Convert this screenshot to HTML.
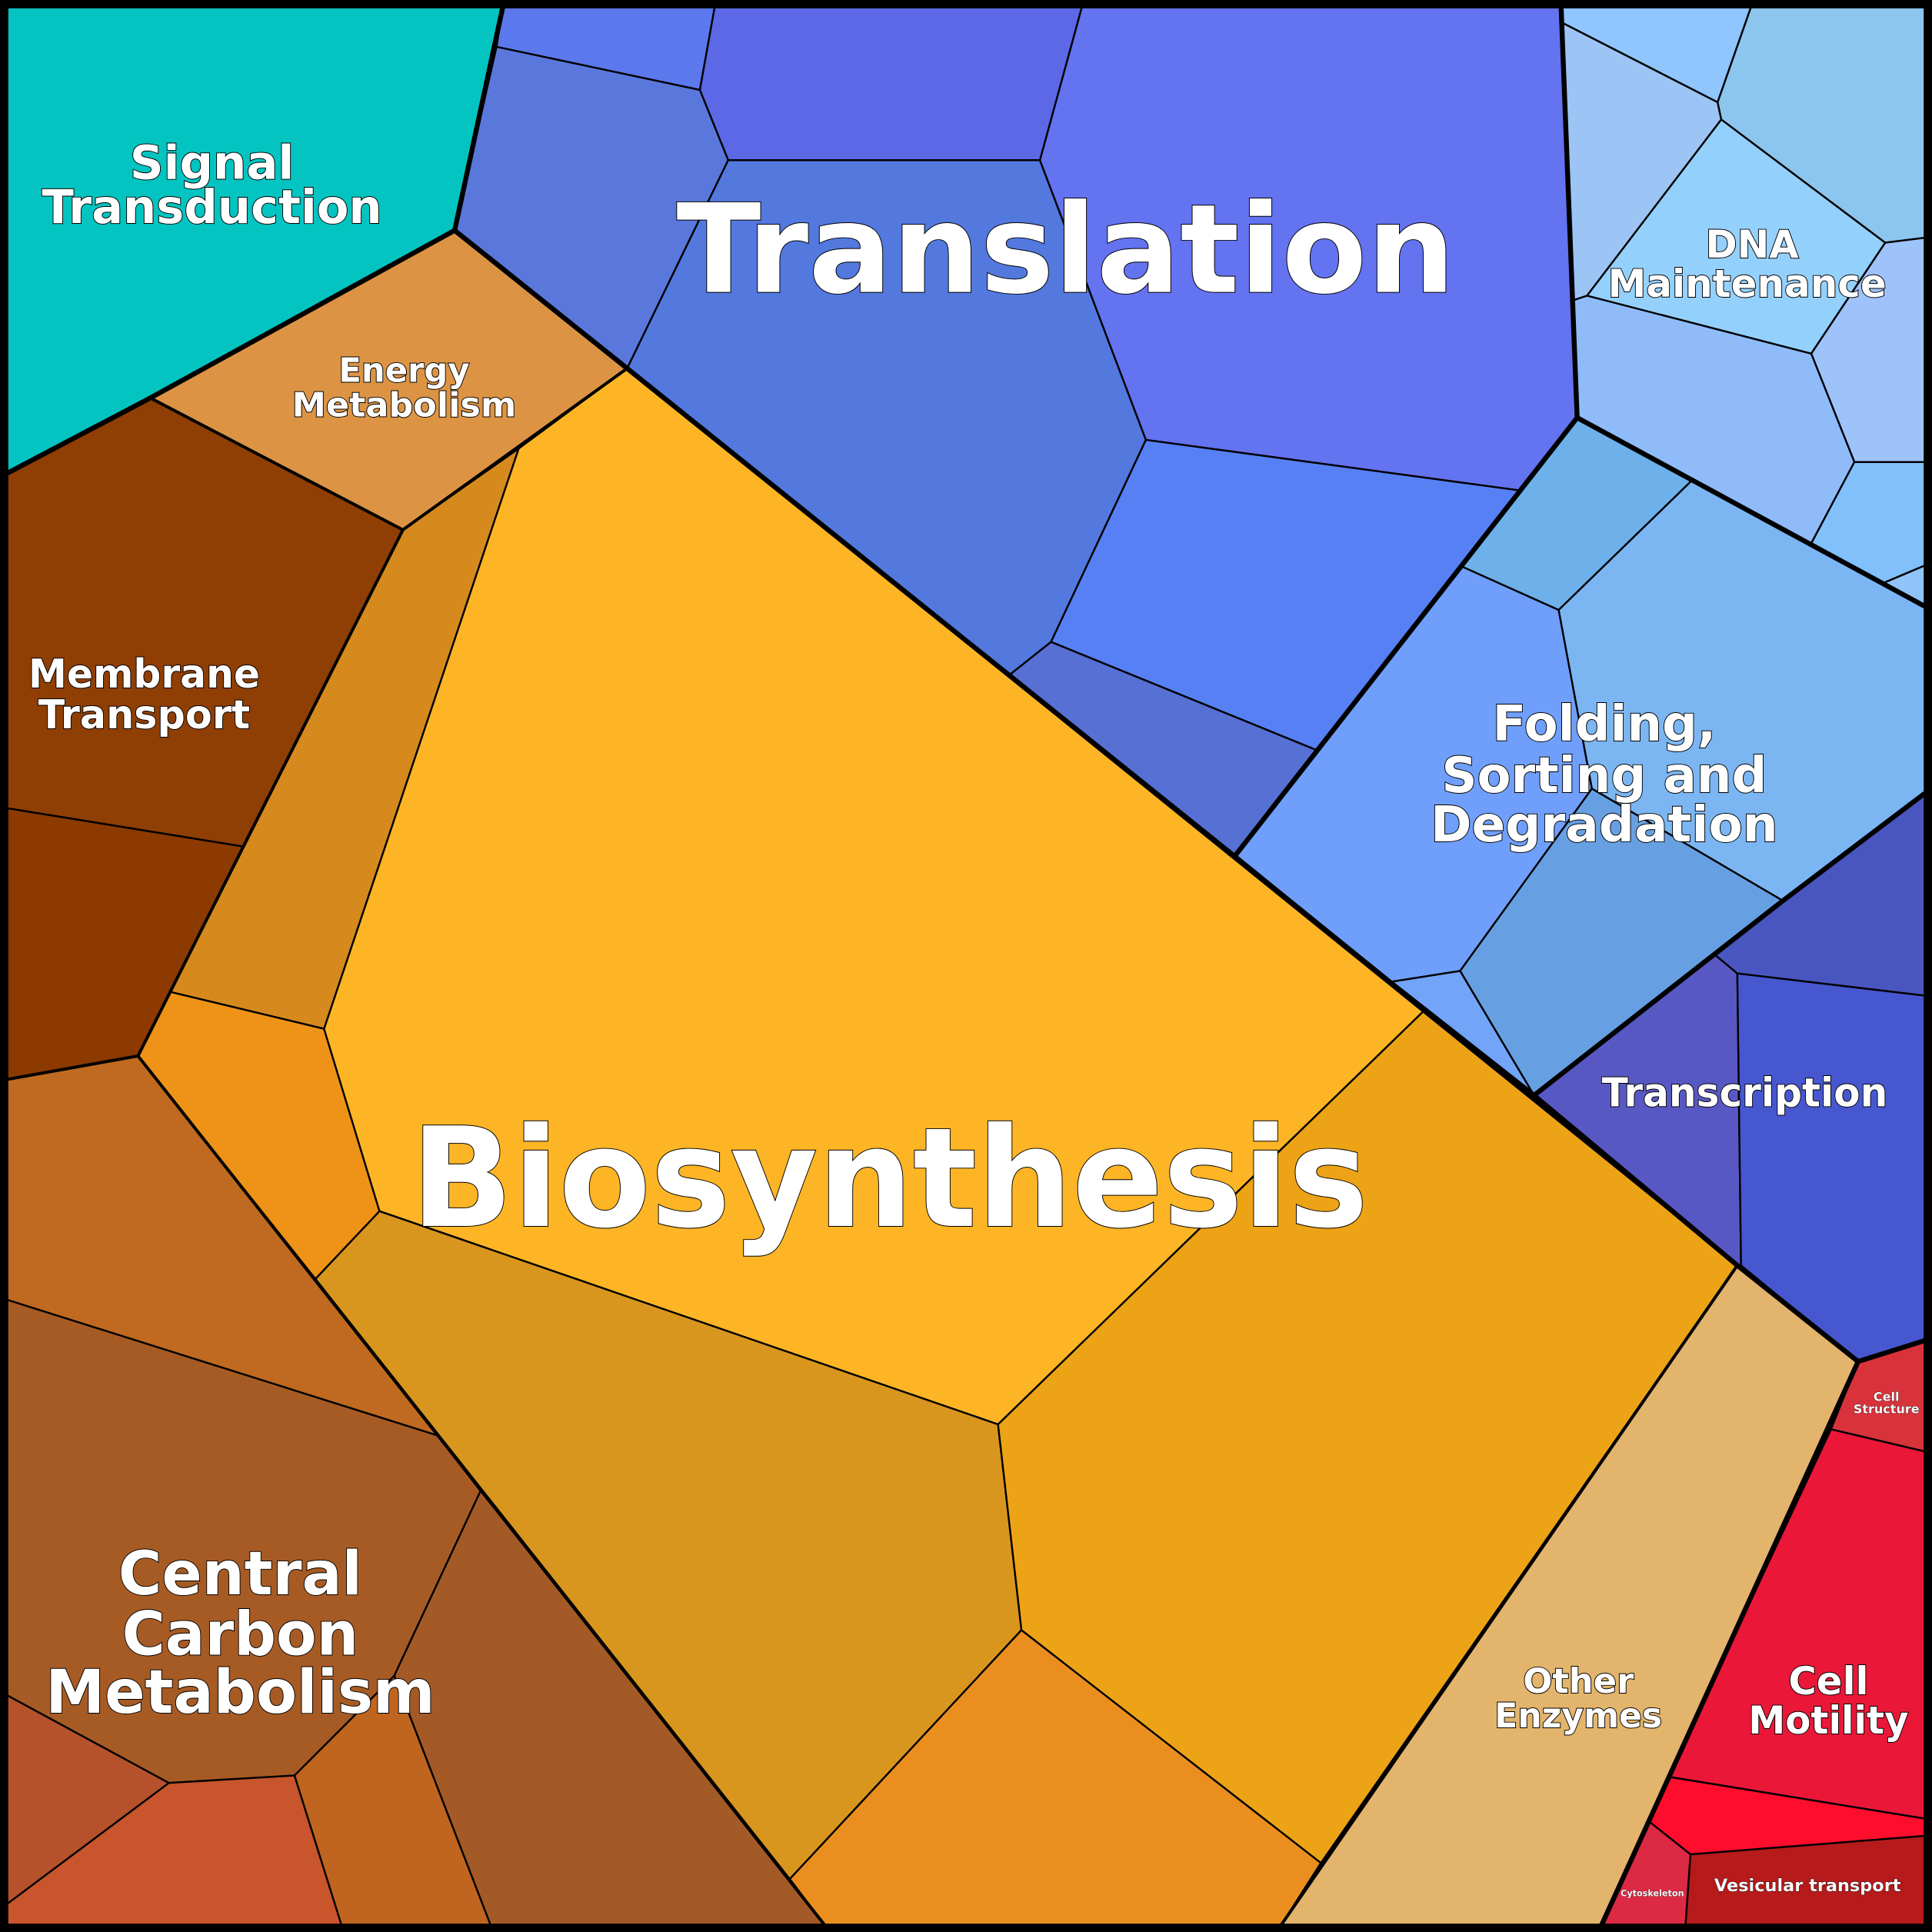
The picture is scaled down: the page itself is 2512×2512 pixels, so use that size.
<!DOCTYPE html>
<html><head><meta charset="utf-8"><style>html,body{margin:0;padding:0;background:#fff}svg{display:block}
text{font-family:"DejaVu Sans","Liberation Sans",sans-serif;font-weight:bold;fill:#fff;stroke:#000;stroke-width:1.2;paint-order:stroke;text-anchor:middle}</style></head>
<body>
<svg width="2512" height="2512" viewBox="0 0 1568 1568" xmlns="http://www.w3.org/2000/svg">
<rect x="0" y="0" width="1568" height="1568" fill="#000"/>
<g stroke="#000" stroke-width="1.5" stroke-linejoin="round">
<polygon fill="#03c4c1" points="6,6 408,6 369,187 122,323 6,384"/>
<polygon fill="#dc9444" points="122,323 369,187 509,299 327,430"/>
<polygon fill="#8f3e04" points="6,384 122,323 327,430 197,687 6,656"/>
<polygon fill="#8c3a00" points="6,656 197,687 112,857 6,876"/>
<polygon fill="#d68a1e" points="327,430 421,364 263,835 138,805"/>
<polygon fill="#ee9318" points="138,805 263,835 308,983 256,1038 112,857"/>
<polygon fill="#fdb526" points="421,364 509,299 1155,821 810,1156 308,983 263,835"/>
<polygon fill="#d9961f" points="308,983 810,1156 829,1323 641,1525 256,1038"/>
<polygon fill="#eda316" points="1155,821 1410,1027 1072,1512 829,1323 810,1156"/>
<polygon fill="#ea8f1f" points="829,1323 1072,1512 1040,1562 669,1562 641,1525"/>
<polygon fill="#bf6a20" points="6,876 112,857 256,1038 355,1165 6,1055"/>
<polygon fill="#a75b24" points="6,1055 355,1165 390,1210 320,1360 239,1441 137,1447 6,1376"/>
<polygon fill="#a35a26" points="390,1210 669,1562 398,1562 320,1360"/>
<polygon fill="#c0651f" points="320,1360 398,1562 277,1562 239,1441"/>
<polygon fill="#c8552b" points="137,1447 239,1441 277,1562 6,1562 6,1545"/>
<polygon fill="#b5522c" points="6,1376 137,1447 6,1545"/>
<polygon fill="#e2b46c" points="1410,1027 1508,1105 1300,1562 1040,1562"/>
<polygon fill="#d8323a" points="1508,1105 1562,1088 1562,1178 1486,1160"/>
<polygon fill="#ea1738" points="1486,1160 1562,1178 1562,1476 1354,1442"/>
<polygon fill="#ff0d2c" points="1354,1442 1562,1476 1562,1490 1372,1505 1338,1478"/>
<polygon fill="#dc2a44" points="1338,1478 1372,1505 1368,1562 1300,1562"/>
<polygon fill="#b61a1a" points="1372,1505 1562,1490 1562,1562 1368,1562"/>
<polygon fill="#5858c4" points="1245,889 1392,775 1410,790 1413,1027 1410,1027"/>
<polygon fill="#4757cf" points="1410,790 1562,808 1562,1088 1508,1105 1413,1027"/>
<polygon fill="#4a56c0" points="1392,775 1447,731 1562,644 1562,808 1410,790"/>
<polygon fill="#6f9ffa" points="1002,695 1187,460 1265,495 1292,640 1185,788 1128,797"/>
<polygon fill="#67a0e2" points="1185,788 1292,640 1447,731 1245,889"/>
<polygon fill="#72a4f8" points="1128,797 1185,788 1245,889"/>
<polygon fill="#7bb6f3" points="1265,495 1373,390 1562,492 1562,644 1447,731 1292,640"/>
<polygon fill="#6eb0ea" points="1187,460 1280,339 1373,390 1265,495"/>
<polygon fill="#90c5fd" points="1267,6 1421,6 1394,83 1267,18"/>
<polygon fill="#9cc4f4" points="1267,18 1394,83 1397,97 1288,240 1276,244"/>
<polygon fill="#8cc5ee" points="1421,6 1562,6 1562,193 1530,197 1397,97 1394,83"/>
<polygon fill="#94d0fc" points="1397,97 1530,197 1470,287 1288,240"/>
<polygon fill="#9ec2fa" points="1530,197 1562,193 1562,375 1505,375 1470,287"/>
<polygon fill="#8fbcf9" points="1276,244 1288,240 1470,287 1505,375 1470,441 1373,390 1280,339"/>
<polygon fill="#82c0fb" points="1505,375 1562,375 1562,459 1529,473 1470,441"/>
<polygon fill="#90c4f8" points="1529,473 1562,459 1562,492"/>
<polygon fill="#5b78ec" points="408,6 580,6 568,73 403,38"/>
<polygon fill="#5c68e6" points="580,6 878,6 844,130 591,130 568,73"/>
<polygon fill="#5a78dc" points="403,38 568,73 591,130 509,299 369,187"/>
<polygon fill="#5379df" points="591,130 844,130 930,357 853,521 819,548 509,299"/>
<polygon fill="#6473f0" points="878,6 1267,6 1280,339 1233,398 930,357 844,130"/>
<polygon fill="#5780f4" points="930,357 1233,398 1069,609 853,521"/>
<polygon fill="#5670d4" points="853,521 1069,609 1002,695 819,548"/>
</g>
<g fill="none" stroke="#000" stroke-width="4" stroke-linejoin="round">
<polyline points="6,384 122,323 369,187 408,6"/>
<polyline points="369,187 509,299 819,548 1002,695 1128,797 1245,889 1410,1027 1508,1105 1562,1088"/>
<polyline points="1267,6 1280,339 1002,695"/>
<polyline points="1280,339 1562,492"/>
<polyline points="1245,889 1447,731 1562,644"/>
<polyline points="1508,1105 1300,1562"/>
</g>
<g fill="none" stroke="#000" stroke-width="2.5" stroke-linejoin="round">
<polyline points="122,323 327,430 509,299"/>
<polyline points="327,430 112,857 6,876"/>
<polyline points="112,857 669,1562"/>
<polyline points="1410,1027 1040,1562"/>
</g>
<rect x="3" y="3" width="1562" height="1562" fill="none" stroke="#000" stroke-width="6"/>
<text x="865" y="237" font-size="100" textLength="632" lengthAdjust="spacingAndGlyphs">Translation</text>
<text x="722" y="995" font-size="112" textLength="777" lengthAdjust="spacingAndGlyphs">Biosynthesis</text>
<text x="172" y="145" font-size="38">Signal</text>
<text x="172" y="181" font-size="38" textLength="276" lengthAdjust="spacingAndGlyphs">Transduction</text>
<text x="328" y="310" font-size="27">Energy</text>
<text x="328" y="338" font-size="27" textLength="182" lengthAdjust="spacingAndGlyphs">Metabolism</text>
<text x="117" y="558" font-size="32" textLength="188" lengthAdjust="spacingAndGlyphs">Membrane</text>
<text x="117" y="591" font-size="32" textLength="172" lengthAdjust="spacingAndGlyphs">Transport</text>
<text x="195" y="1294" font-size="49" textLength="198" lengthAdjust="spacingAndGlyphs">Central</text>
<text x="195" y="1343" font-size="49" textLength="192" lengthAdjust="spacingAndGlyphs">Carbon</text>
<text x="195" y="1390" font-size="49" textLength="316" lengthAdjust="spacingAndGlyphs">Metabolism</text>
<text x="1422" y="209" font-size="31">DNA</text>
<text x="1418" y="241" font-size="31" textLength="226" lengthAdjust="spacingAndGlyphs">Maintenance</text>
<text x="1302" y="601" font-size="40">Folding,</text>
<text x="1302" y="643" font-size="40" textLength="264" lengthAdjust="spacingAndGlyphs">Sorting and</text>
<text x="1302" y="683" font-size="40" textLength="282" lengthAdjust="spacingAndGlyphs">Degradation</text>
<text x="1416" y="898" font-size="32" textLength="232" lengthAdjust="spacingAndGlyphs">Transcription</text>
<text x="1281" y="1374" font-size="28">Other</text>
<text x="1281" y="1402" font-size="28" textLength="136" lengthAdjust="spacingAndGlyphs">Enzymes</text>
<text x="1484" y="1375" font-size="31">Cell</text>
<text x="1484" y="1407" font-size="31" textLength="130" lengthAdjust="spacingAndGlyphs">Motility</text>
<text x="1531" y="1137" font-size="10" style="stroke-width:.4">Cell</text>
<text x="1531" y="1147" font-size="10" style="stroke-width:.4">Structure</text>
<text x="1341" y="1539" font-size="7" style="stroke-width:.3">Cytoskeleton</text>
<text x="1467" y="1535" font-size="14" style="stroke-width:.5">Vesicular transport</text>
</svg>
</body></html>
